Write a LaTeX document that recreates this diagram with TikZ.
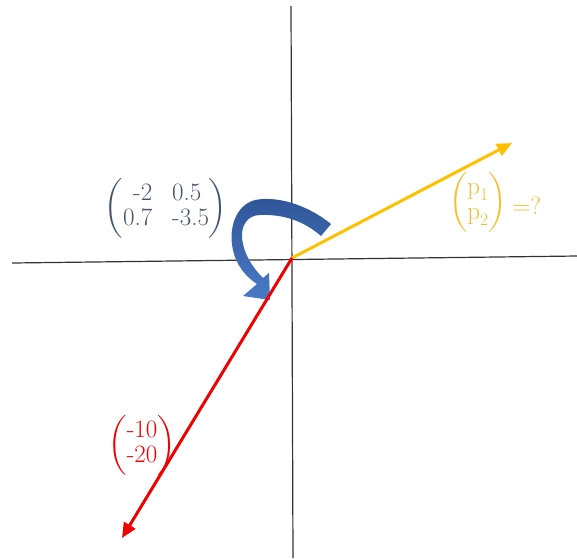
\documentclass[tikz,border=0pt]{standalone}
\usepackage{amsmath}
\usepackage{fontspec}
\usetikzlibrary{arrows.meta}
\definecolor{axisgray}{HTML}{333333}
\definecolor{vecyellow}{HTML}{FFC000}
\definecolor{txtyellow}{HTML}{F5BE2E}
\definecolor{vecred}{HTML}{F00000}
\definecolor{matgray}{HTML}{44546A}
\definecolor{bluedark}{HTML}{2F5597}
\definecolor{bluelight}{HTML}{4A7AC8}
\begin{document}
\begin{tikzpicture}[x=1pt,y=-1pt,
  axis/.style={draw=axisgray,line width=1.2pt},
  vec/.style={line width=3pt,-{Triangle[length=15pt,width=13pt]}},
  lbl/.style={inner sep=0pt,font=\fontsize{25}{27}\selectfont}]
\useasboundingbox (0,0) rectangle (577,558);
\coordinate (xl) at (12,263);
\coordinate (xr) at (577,256);
\coordinate (yt) at (291,6);
\coordinate (yb) at (293,558);
\coordinate (O) at (292,258);
\coordinate (P) at (512,143);
\coordinate (R) at (122,538);
\draw[axis] (xl) -- (xr);
\draw[axis] (yt) -- (yb);
% curved block arrow
\shade[top color=bluedark, bottom color=bluelight]
  (331,224) .. controls (305,203) and (275,196) .. (255,200)
  .. controls (236,205) and (228,228) .. (233,250)
  .. controls (236,265) and (246,277) .. (257,284)
  -- (243,296) -- (270,300) -- (269,273) -- (263,278)
  .. controls (253,268) and (244,255) .. (242,238)
  .. controls (241,225) and (248,215) .. (260,215)
  .. controls (285,214) and (305,222) .. (321,236) -- cycle;
\draw[vec, draw=vecyellow] (O) -- (P);
\draw[vec, draw=vecred] (O) -- (R);
\node[lbl, text=matgray] (M) at (166,208)
  {$\left(\begin{array}{@{}r@{\hspace{20pt}}l@{}}\text{-2} & \text{0.5}\\[-2pt] \text{0.7} & \text{-3.5}\end{array}\right)$};
\node[lbl, text=txtyellow] (Q) at (478,202)
  {$\left(\begin{array}{@{}c@{}}\text{p}_{\text{1}}\\[-2pt] \text{p}_{\text{2}}\end{array}\right)$};
\node[lbl, text=txtyellow, anchor=west] (Qe) at ([xshift=5pt,yshift=-4pt]Q.east) {=?};
\node[lbl, text=vecred] (V) at (142,445)
  {$\left(\begin{array}{@{}c@{}}\text{-10}\\[-2pt] \text{-20}\end{array}\right)$};
\end{tikzpicture}
\end{document}
